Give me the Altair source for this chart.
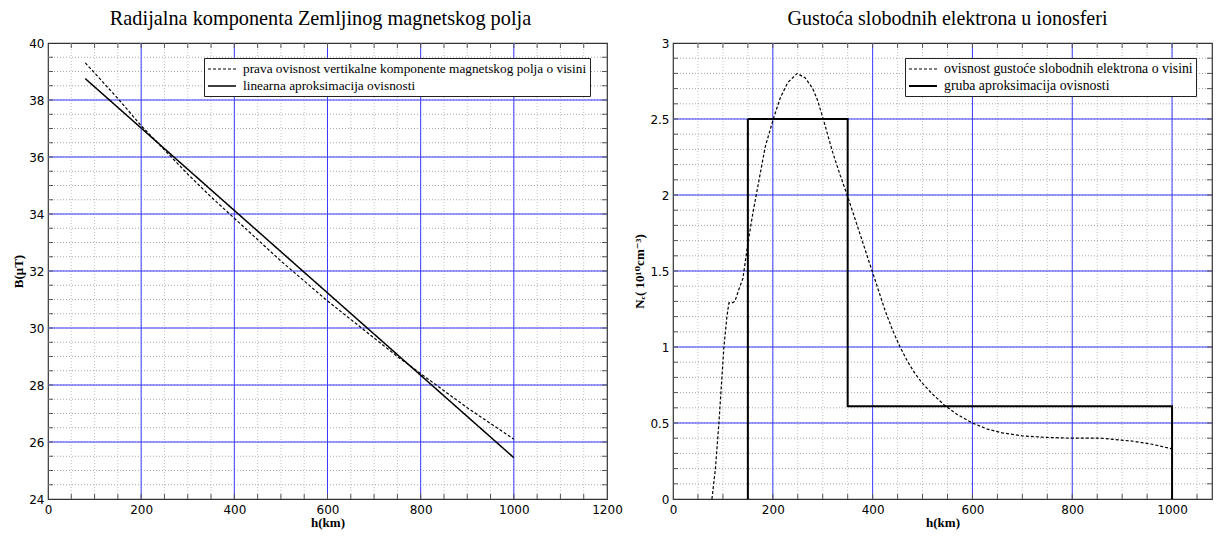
import altair as alt
import pandas as pd

# ---------------- Left panel data ----------------
h_B_true = [80, 100, 150, 200, 250, 300, 350, 400, 450, 500, 550, 600, 650, 700, 750, 800, 850, 900, 950, 1000]
B_true = [39.3, 38.95, 38.05, 37.1, 36.25, 35.4, 34.6, 33.85, 33.1, 32.35, 31.65, 30.95, 30.3, 29.65, 29.0, 28.4, 27.8, 27.2, 26.65, 26.1]
h_B_lin = [80, 1000]
B_lin = [38.75, 25.45]
lab_B_true = " prava ovisnost vertikalne komponente magnetskog polja o visini"
lab_B_lin = "linearna aproksimacija ovisnosti"

# ---------------- Right panel data ----------------
h_ne = [78, 85, 92, 102, 108, 112, 118, 124, 132, 140, 150, 160, 173, 185, 201, 215, 230, 249, 265, 280,
        290, 301, 320, 335, 349, 375, 399, 425, 440, 455, 470, 485, 500, 520, 544, 570, 600, 630, 660, 700,
        750, 800, 857, 923, 960, 1000]
ne_true = [0, 0.2, 0.5, 1.0, 1.2, 1.29, 1.29, 1.30, 1.38, 1.45, 1.68, 1.88, 2.11, 2.32, 2.5, 2.64, 2.74, 2.80, 2.77, 2.70,
           2.62, 2.50, 2.28, 2.13, 2.0, 1.74, 1.50, 1.24, 1.11, 1.0, 0.905, 0.825, 0.76, 0.69, 0.617, 0.555, 0.5, 0.46, 0.435, 0.415,
           0.405, 0.40, 0.40, 0.38, 0.36, 0.33]
h_step = [150, 150, 350, 350, 1000, 1000]
ne_step = [0, 2.5, 2.5, 0.61, 0.61, 0]
lab_ne_true = " ovisnost gustoće slobodnih elektrona o visini"
lab_ne_step = "gruba aproksimacija ovisnosti"

# tick / grid values
xL_labels = [0, 200, 400, 600, 800, 1000, 1200]
yL_labels = [24, 26, 28, 30, 32, 34, 36, 38, 40]
xR_labels = [0, 200, 400, 600, 800, 1000]
yR_labels = [0, 0.5, 1, 1.5, 2, 2.5, 3]


def make_df(h1, v1, s1, h2, v2, s2):
    rows = []
    for i, (h, v) in enumerate(zip(h1, v1)):
        rows.append({"h": h, "v": v, "series": s1, "ord": i})
    for i, (h, v) in enumerate(zip(h2, v2)):
        rows.append({"h": h, "v": v, "series": s2, "ord": i})
    return pd.DataFrame(rows)


LABEL_FONT = "DejaVu Sans"
SERIF = "'Liberation Serif', 'DejaVu Serif', serif"
BLUE = "#3b3bff"
MINOR_V = "#c4c4c4"
MINOR_H = "#a8a8a8"
TICK = "#555555"
PLOT_H = 456


def panel(df, order, xdom, ydom, xlab, ylab, xminor, yminor, xmajor, ymajor,
          title, tsize, tdx, ytitle, width, legx, legfs, yfmt, solid_w):
    xs = alt.Scale(domain=xdom, nice=False, zero=False)
    ys = alt.Scale(domain=ydom, nice=False, zero=False)
    xaxis = alt.Axis(values=xlab, format="d", title="h(km)", titleFont=SERIF, titleFontSize=13,
                     titleFontWeight="bold", titleColor="black", labelFont=LABEL_FONT,
                     labelFontSize=12, labelColor="black", ticks=False, domain=False, grid=False,
                     labelPadding=5, titlePadding=1, labelFlush=False, labelOverlap=False)
    yaxis = alt.Axis(values=ylab, format=yfmt, title=ytitle, titleFont=SERIF, titleFontSize=13,
                     titleFontWeight="bold", titleColor="black", labelFont=LABEL_FONT,
                     labelFontSize=12, labelColor="black", ticks=False, domain=False, grid=False,
                     labelPadding=4, titlePadding=3, labelFlush=False, labelOverlap=False)
    X = lambda f: alt.X(f, scale=xs, axis=xaxis)
    Y = lambda f: alt.Y(f, scale=ys, axis=yaxis)
    XD = lambda d: alt.XDatum(d, scale=xs, axis=xaxis)
    YD = lambda d: alt.YDatum(d, scale=ys, axis=yaxis)
    gx = pd.DataFrame({"g": xminor})
    gy = pd.DataFrame({"g": yminor})

    minor_x = alt.Chart(gx).mark_rule(color=MINOR_V, strokeDash=[1, 2], strokeWidth=1).encode(x=X("g:Q"))
    minor_y = alt.Chart(gy).mark_rule(color=MINOR_H, strokeDash=[1, 2], strokeWidth=1).encode(y=Y("g:Q"))
    major_x = alt.Chart(pd.DataFrame({"g": xmajor})).mark_rule(color=BLUE, strokeWidth=1).encode(x=X("g:Q"))
    major_y = alt.Chart(pd.DataFrame({"g": ymajor})).mark_rule(color=BLUE, strokeWidth=1).encode(y=Y("g:Q"))

    # inward frame ticks (half of each tick is clipped away by the frame)
    tk = dict(color=TICK, thickness=1, size=10, clip=True, opacity=1)
    t_bottom = alt.Chart(gx).mark_tick(orient="vertical", **tk).encode(x=X("g:Q"), y=YD(ydom[0]))
    t_top = alt.Chart(gx).mark_tick(orient="vertical", **tk).encode(x=X("g:Q"), y=YD(ydom[1]))
    t_left = alt.Chart(gy).mark_tick(orient="horizontal", **tk).encode(y=Y("g:Q"), x=XD(xdom[0]))
    t_right = alt.Chart(gy).mark_tick(orient="horizontal", **tk).encode(y=Y("g:Q"), x=XD(xdom[1]))

    legend = alt.Legend(title=None, orient="none", legendX=legx, legendY=15,
                        fillColor="white", strokeColor="#222", padding=3,
                        symbolType="M-1,0L3,0", symbolSize=196, symbolStrokeColor="black",
                        symbolStrokeWidth=1.4, labelFont=SERIF, labelFontSize=legfs,
                        labelColor="black", labelLimit=700, rowPadding=2, cornerRadius=0,
                        labelOffset=20)
    lines = alt.Chart(df).mark_line(color="black").encode(
        x=X("h:Q"),
        y=Y("v:Q"),
        strokeDash=alt.StrokeDash("series:N", sort=order,
                                  scale=alt.Scale(domain=order, range=[[3, 2], [1, 0]]),
                                  legend=legend),
        strokeWidth=alt.StrokeWidth("series:N", sort=order,
                                    scale=alt.Scale(domain=order, range=[1.2, solid_w]),
                                    legend=None),
        order=alt.Order("ord:Q"),
    )
    return alt.layer(minor_x, minor_y, major_x, major_y, t_bottom, t_top, t_left, t_right, lines).properties(
        width=width, height=PLOT_H,
        title=alt.TitleParams(title, font=SERIF, fontSize=tsize, fontWeight="normal",
                              color="black", anchor="middle", offset=8, dx=tdx),
    )


dfL = make_df(h_B_true, B_true, lab_B_true, h_B_lin, B_lin, lab_B_lin)
dfR = make_df(h_ne, ne_true, lab_ne_true, h_step, ne_step, lab_ne_step)

left = panel(dfL, [lab_B_true, lab_B_lin], [0, 1200], [24, 40], xL_labels, yL_labels,
             list(range(50, 1200, 50)), [24 + 0.5 * i for i in range(1, 32)],
             list(range(200, 1200, 200)), list(range(26, 40, 2)),
             "Radijalna komponenta Zemljinog magnetskog polja", 20.3, -7,
             "B(μT)", 559, 156, 13.3, "d", 1.5)

right = panel(dfR, [lab_ne_true, lab_ne_step], [0, 1080], [0, 3], xR_labels, yR_labels,
              list(range(50, 1080, 50)), [round(0.1 * i, 1) for i in range(1, 30)],
              list(range(200, 1080, 200)), [0.5, 1, 1.5, 2, 2.5],
              "Gustoća slobodnih elektrona u ionosferi", 20, 5,
              "Nₑ( 10¹⁰cm⁻³)", 539, 232, 13.8, "~g", 2.0)

chart = alt.hconcat(left, right, spacing=66, bounds="flush").resolve_scale(
    strokeDash="independent", strokeWidth="independent"
).configure_view(stroke="#333", strokeWidth=1.2).properties(
    padding={"left": 4, "top": 0, "right": 0, "bottom": 0}
)

chart.save("out.html", embed_options={"renderer": "svg", "actions": False})
